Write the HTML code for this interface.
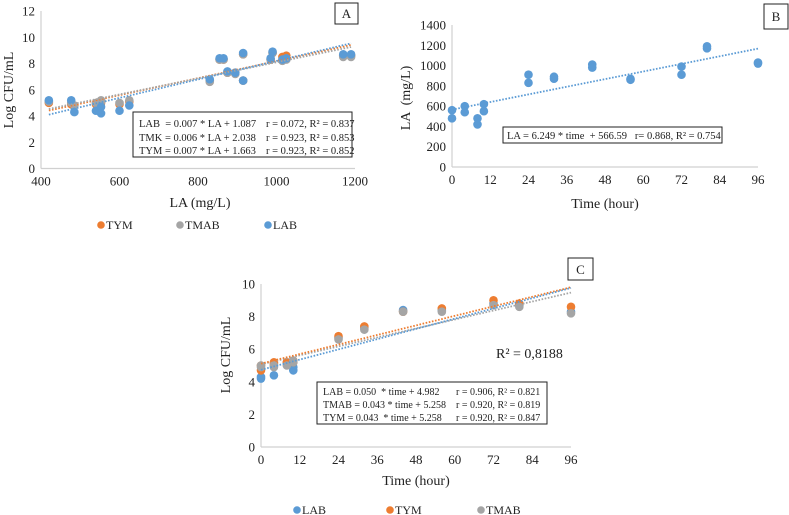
<!DOCTYPE html>
<html><head><meta charset="utf-8">
<style>
html,body{margin:0;padding:0;background:#fff;}
svg{display:block;font-family:"Liberation Serif",serif;}
text{white-space:pre;}
</style></head>
<body>
<svg id="fig" width="789" height="515" viewBox="0 0 789 515" xmlns="http://www.w3.org/2000/svg">
<g id="gA"></g>
<g id="gB"></g>
<g id="gC"></g>
</svg>
<script>
// ---- Chart A data ----
const aLA   = [420,477,485,540,553,553,600,625,830,855,865,875,895,915,915,985,990,1015,1025,1170,1190];
const aLAB  = [5.2,5.2,4.3,4.4,4.7,4.2,4.4,4.8,6.8,8.4,8.4,7.4,7.3,8.8,6.7,8.4,8.9,8.3,8.4,8.7,8.7];
const aTMAB = [5.1,5.0,4.8,5.0,5.2,5.1,5.0,5.2,6.6,8.3,8.3,7.3,7.2,8.7,6.7,8.3,8.8,8.2,8.3,8.5,8.5];
const aTYM  = [5.0,4.9,4.8,4.9,5.1,5.0,4.9,5.1,6.7,8.3,8.3,7.3,7.3,8.7,6.7,8.3,8.8,8.5,8.6,8.6,8.6];
const aXTicks = [400,600,800,1000,1200];
const aYTicks = [0,2,4,6,8,10,12];
// ---- Chart B data ----
const bTime = [0,0,4,4,8,8,10,10,24,24,32,32,44,44,56,56,72,72,80,80,96,96];
const bLA   = [560,480,600,540,480,420,620,550,910,830,890,870,1010,980,860,870,990,910,1190,1170,1020,1030];
const bXTicks = [0,12,24,36,48,60,72,84,96];
const bYTicks = [0,200,400,600,800,1000,1200,1400];
// ---- Chart C data ----
const cTime = [0,0,4,4,8,10,10,24,32,44,56,72,80,96];
const cLAB  = [4.2,4.3,4.4,5.0,5.2,4.7,4.9,6.7,7.3,8.4,8.4,8.8,8.7,8.3];
const cTYM  = [4.7,5.0,5.2,5.1,5.2,5.2,5.3,6.8,7.4,8.3,8.5,9.0,8.8,8.6];
const cTMAB = [4.9,5.0,4.9,5.0,5.0,5.3,5.2,6.6,7.2,8.3,8.3,8.7,8.6,8.2];
const cXTicks = [0,12,24,36,48,60,72,84,96];
const cYTicks = [0,2,4,6,8,10];

const NS="http://www.w3.org/2000/svg";
const BLUE="#5b9bd5", ORANGE="#ed7d31", GREY="#a5a5a5";
function mk(parent,tag,attrs,text){const e=document.createElementNS(NS,tag);for(const k in attrs)e.setAttribute(k,attrs[k]);if(text!==undefined)e.textContent=text;parent.appendChild(e);return e;}
function linreg(xs,ys){const n=xs.length;let sx=0,sy=0,sxy=0,sxx=0;for(let i=0;i<n;i++){sx+=xs[i];sy+=ys[i];sxy+=xs[i]*ys[i];sxx+=xs[i]*xs[i];}const b=(n*sxy-sx*sy)/(n*sxx-sx*sx);return{b:b,a:(sy-b*sx)/n};}

function axes(g,X,Y,xt,yt,x0,x1,y0,y1,fs){
  const ax=mk(g,'line',{x1:X(x0),x2:X(x0),y1:Y(y0),y2:Y(y1),stroke:'#d0d0d0','stroke-width':1.2});
  
  const bx=mk(g,'line',{x1:X(x0),x2:X(x1),y1:Y(y0),y2:Y(y0),stroke:'#d0d0d0','stroke-width':1.2});
  
  xt.forEach(v=>{const t=mk(g,'text',{x:X(v),y:Y(y0)+17,'text-anchor':'middle','font-size':fs,fill:'#222'},String(v));
    });
  yt.forEach(v=>{const t=mk(g,'text',{x:X(x0)-6,y:Y(v)+4.5,'text-anchor':'end','font-size':fs,fill:'#222'},String(v));
    });
}
function dots(g,X,Y,xs,ys,col,name){xs.forEach((x,i)=>{const c=mk(g,'circle',{cx:X(x),cy:Y(ys[i]),r:4.3,fill:col});
  });}
function trend(g,X,Y,xs,ys,col,xa,xb,name){const r=linreg(xs,ys);const l=mk(g,'line',{x1:X(xa),y1:Y(r.a+r.b*xa),x2:X(xb),y2:Y(r.a+r.b*xb),stroke:col,'stroke-width':1.8,'stroke-dasharray':'1.6 1.6'});
  }
function box(g,x,y,w,h,name){const r=mk(g,'rect',{x:x,y:y,width:w,height:h,fill:'#fff',stroke:'#222','stroke-width':1});}
function txt(g,x,y,s,fs,name,anchor,rot){const a={x:x,y:y,'font-size':fs,fill:'#222','text-anchor':anchor||'start'};if(rot)a.transform=rot;const t=mk(g,'text',a,s);t.setAttribute('xml:space','preserve');return t;}
function legend(g,x,y,col,label){const c=mk(g,'circle',{cx:x,cy:y-4,r:3.8,fill:col});
  txt(g,x+5,y,label,12,'legend-entry-'+label.toLowerCase());}

// ===== Chart A =====
(function(){const g=document.getElementById('gA');
  const X=v=>41+(v-400)*(314/800), Y=v=>168.5-v*13.125;
  axes(g,X,Y,aXTicks,aYTicks,400,1200,0,12,13);
  dots(g,X,Y,aLA,aTYM,ORANGE,'point-tym');
  dots(g,X,Y,aLA,aTMAB,GREY,'point-tmab');
  dots(g,X,Y,aLA,aLAB,BLUE,'point-lab');
  trend(g,X,Y,aLA,aTYM,ORANGE,420,1190,'trendline-tym');
  trend(g,X,Y,aLA,aTMAB,GREY,420,1190,'trendline-tmab');
  trend(g,X,Y,aLA,aLAB,BLUE,420,1190,'trendline-lab');
  box(g,133,112,219,45,'equation-box-a');
  txt(g,139,127,'LAB  = 0.007 * LA + 1.087',10.5,'equation-lab');
  txt(g,139,141,'TMK = 0.006 * LA + 2.038',10.5,'equation-tmk');
  txt(g,139,154,'TYM = 0.007 * LA + 1.663',10.5,'equation-tym');
  txt(g,266,127,'r = 0.072, R² = 0.837',10.5,'equation-lab-stats');
  txt(g,266,141,'r = 0.923, R² = 0.853',10.5,'equation-tmk-stats');
  txt(g,266,154,'r = 0.923, R² = 0.852',10.5,'equation-tym-stats');
  box(g,335,3,23,21,'panel-label-box-a');txt(g,346.5,18,'A',13,'panel-label-a','middle');
  txt(g,200,207,'LA (mg/L)',14,'x-axis-title-a','middle');
  txt(g,13,90,'Log CFU/mL',14,'y-axis-title-a','middle','rotate(-90 13 90)');
  legend(g,101,229,ORANGE,'TYM');legend(g,180,229,GREY,'TMAB');legend(g,268,229,BLUE,'LAB');
})();
// ===== Chart B =====
(function(){const g=document.getElementById('gB');
  const X=v=>452+v*(306/96), Y=v=>167-v*(142/1400);
  axes(g,X,Y,bXTicks,bYTicks,0,96,0,1400,13);
  dots(g,X,Y,bTime,bLA,BLUE,'point-la');
  trend(g,X,Y,bTime,bLA,BLUE,0,96,'trendline-la');
  box(g,503,127,219,16,'equation-box-b');
  txt(g,507,139,'LA = 6.249 * time  + 566.59   r= 0.868, R² = 0.754',10.5,'equation-la');
  box(g,764,4,24,25,'panel-label-box-b');txt(g,776,21,'B',13,'panel-label-b','middle');
  txt(g,605,208,'Time (hour)',14,'x-axis-title-b','middle');
  txt(g,410,98,'LA  (mg/L)',14,'y-axis-title-b','middle','rotate(-90 410 98)');
})();
// ===== Chart C =====
(function(){const g=document.getElementById('gC');
  const X=v=>261+v*(310/96), Y=v=>447-v*16.3;
  axes(g,X,Y,cXTicks,cYTicks,0,96,0,10,13);
  dots(g,X,Y,cTime,cLAB,BLUE,'point-lab');
  dots(g,X,Y,cTime,cTYM,ORANGE,'point-tym');
  dots(g,X,Y,cTime,cTMAB,GREY,'point-tmab');
  trend(g,X,Y,cTime,cTMAB,GREY,0,96,'trendline-tmab');
  trend(g,X,Y,cTime,cTYM,ORANGE,0,96,'trendline-tym');
  trend(g,X,Y,cTime,cLAB,BLUE,0,96,'trendline-lab');
  txt(g,496,358,'R² = 0,8188',14,'r-squared-label');
  box(g,317,382,230,42,'equation-box-c');
  txt(g,323,395,'LAB = 0.050  * time + 4.982',10,'equation-lab-c');
  txt(g,323,408,'TMAB = 0.043 * time + 5.258',10,'equation-tmab-c');
  txt(g,323,421,'TYM = 0.043  * time + 5.258',10,'equation-tym-c');
  txt(g,456,395,'r = 0.906, R² = 0.821',10,'equation-lab-c-stats');
  txt(g,456,408,'r = 0.920, R² = 0.819',10,'equation-tmab-c-stats');
  txt(g,456,421,'r = 0.920, R² = 0.847',10,'equation-tym-c-stats');
  box(g,568,258,25,22,'panel-label-box-c');txt(g,580.5,274,'C',13,'panel-label-c','middle');
  txt(g,416,485,'Time (hour)',14,'x-axis-title-c','middle');
  txt(g,230,355,'Log CFU/mL',14,'y-axis-title-c','middle','rotate(-90 230 355)');
  legend(g,297,514,BLUE,'LAB');legend(g,390,514,ORANGE,'TYM');legend(g,481,514,GREY,'TMAB');
})();
</script>
</body></html>
